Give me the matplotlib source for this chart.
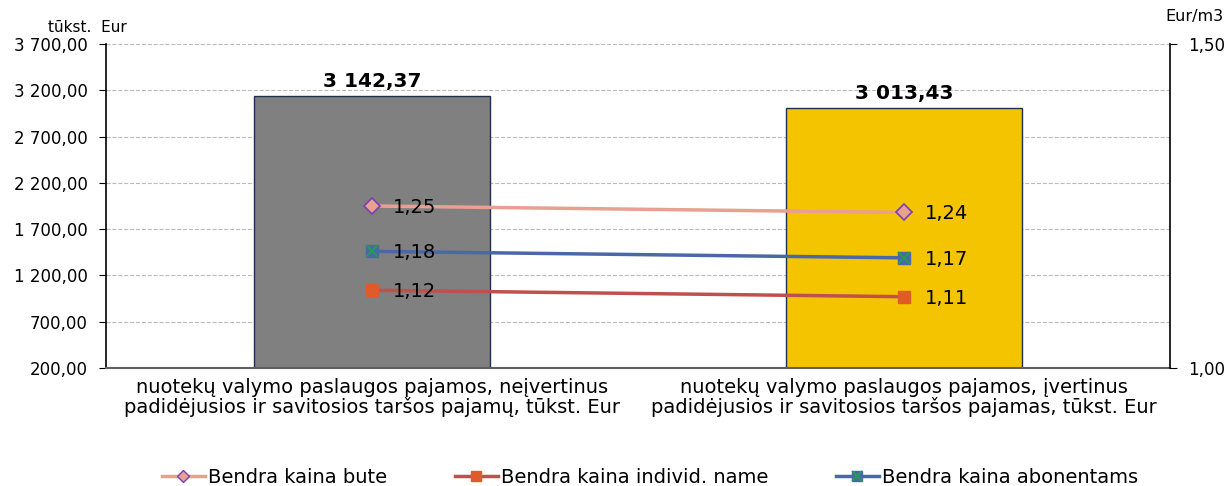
import matplotlib.pyplot as plt
import numpy as np
from matplotlib.legend_handler import HandlerTuple
from matplotlib.lines import Line2D

categories = ['nuotekų valymo paslaugos pajamos, neįvertinus\npadidėjusios ir savitosios taršos pajamų, tūkst. Eur',
              'nuotekų valymo paslaugos pajamos, įvertinus\npadidėjusios ir savitosios taršos pajamas, tūkst. Eur']
revenue = [3142.37, 3013.43]
bar_colors = ['#808080', '#F5C400']
price_bute = [1.25, 1.24]
price_individ = [1.12, 1.11]
price_abon = [1.18, 1.17]
left_ticks = [200, 700, 1200, 1700, 2200, 2700, 3200, 3700]

def fmt(v):
    s = '{:,.2f}'.format(v)
    return s.replace(',', ' ').replace('.', ',')

fig = plt.figure(figsize=(12.31, 4.86), dpi=100)
ax = fig.add_axes([0.0861, 0.2428, 0.8644, 0.6667])
x = np.arange(len(categories))

ax.bar(x, np.array(revenue) - 200, bottom=200, width=0.445, color=bar_colors,
       edgecolor='#1F2F4F', linewidth=1, zorder=2)
for xi, v in zip(x, revenue):
    ax.annotate(fmt(v), (xi, v), xytext=(0, 3), textcoords='offset points',
                ha='center', va='bottom', fontsize=14.5, fontweight='bold')

ax.set_xlim(-0.5, 1.5)
ax.set_ylim(200, 3700)
ax.set_yticks(left_ticks)
ax.set_yticklabels([fmt(t) for t in left_ticks], fontsize=12)
ax.set_xticks(x)
ax.set_xticklabels(categories, fontsize=14, linespacing=1.0)
ax.tick_params(axis='x', length=0, pad=7)
ax.tick_params(axis='y', direction='out', length=5, color='black', pad=8)
ax.grid(axis='y', color='#BBBBBB', linestyle='--', linewidth=0.8, zorder=0)
ax.set_axisbelow(True)
ax.spines['top'].set_visible(False)
ax.spines['right'].set_visible(False)
ax.spines['bottom'].set_color('#606060')
ax.spines['bottom'].set_linewidth(1.5)
ax.spines['left'].set_linewidth(1.2)
fig.text(127 / 1231, 1 - 27 / 486, 'tūkst.  Eur', ha='right', va='center', fontsize=11)

ax2 = ax.twinx()
ax2.set_ylim(1.0, 1.5)
ax2.set_yticks([1.0, 1.5])
ax2.set_yticklabels(['1,00', '1,50'], fontsize=12)
ax2.tick_params(axis='y', direction='out', length=5, pad=8)
for s in ['top', 'left', 'bottom']:
    ax2.spines[s].set_visible(False)
ax2.spines['right'].set_linewidth(1.2)
fig.text(1165 / 1231, 1 - 17 / 486, 'Eur/m3', ha='left', va='center', fontsize=11.5)

l1, = ax2.plot(x, price_bute, color='#E8A090', linewidth=2.5, marker='D', markersize=8,
               markerfacecolor='#E8A090', markeredgecolor='#7A3FB0', markeredgewidth=1.2, zorder=3)
l2, = ax2.plot(x, price_individ, color='#C0504D', linewidth=2.5, marker='s', markersize=8,
               markerfacecolor='#E05A2A', markeredgecolor='#E05A2A', zorder=3)
l3, = ax2.plot(x, price_abon, color='#4A68A8', linewidth=2.5, marker='s', markersize=8,
               markerfacecolor='#4A68A8', markeredgecolor='#4A68A8', zorder=3)
l3x, = ax2.plot(x, price_abon, linestyle='none', marker='x', markersize=8,
                markeredgecolor='#1FA050', markeredgewidth=1.3, zorder=4)

for series in [price_bute, price_individ, price_abon]:
    for xi, v in zip(x, series):
        ax2.annotate('{:.2f}'.format(v).replace('.', ','), (xi, v), xytext=(15, -1),
                     textcoords='offset points', ha='left', va='center', fontsize=14)

h_bute = Line2D([], [], color='#E8A090', linewidth=2.5, marker='D', markersize=6,
                markerfacecolor='#E8A090', markeredgecolor='#7A3FB0')
h_ind = Line2D([], [], color='#C0504D', linewidth=2.5, marker='s', markersize=7,
               markerfacecolor='#E05A2A', markeredgecolor='#E05A2A')
h_ab = Line2D([], [], color='#4A68A8', linewidth=2.5, marker='s', markersize=7,
              markerfacecolor='#4A68A8', markeredgecolor='#4A68A8')
h_abx = Line2D([], [], linestyle='none', marker='x', markersize=7,
               markeredgecolor='#1FA050', markeredgewidth=1.3)
fig.legend([h_bute, h_ind, (h_ab, h_abx)],
           ['Bendra kaina bute', 'Bendra kaina individ. name', 'Bendra kaina abonentams'],
           handler_map={tuple: HandlerTuple(ndivide=1, pad=0)},
           loc='center', bbox_to_anchor=(0.528, 1 - 477 / 486), ncol=3, frameon=False,
           fontsize=14, handlelength=2.2, handletextpad=0.15, columnspacing=3.5)

fig.savefig('out.png', dpi=100)
